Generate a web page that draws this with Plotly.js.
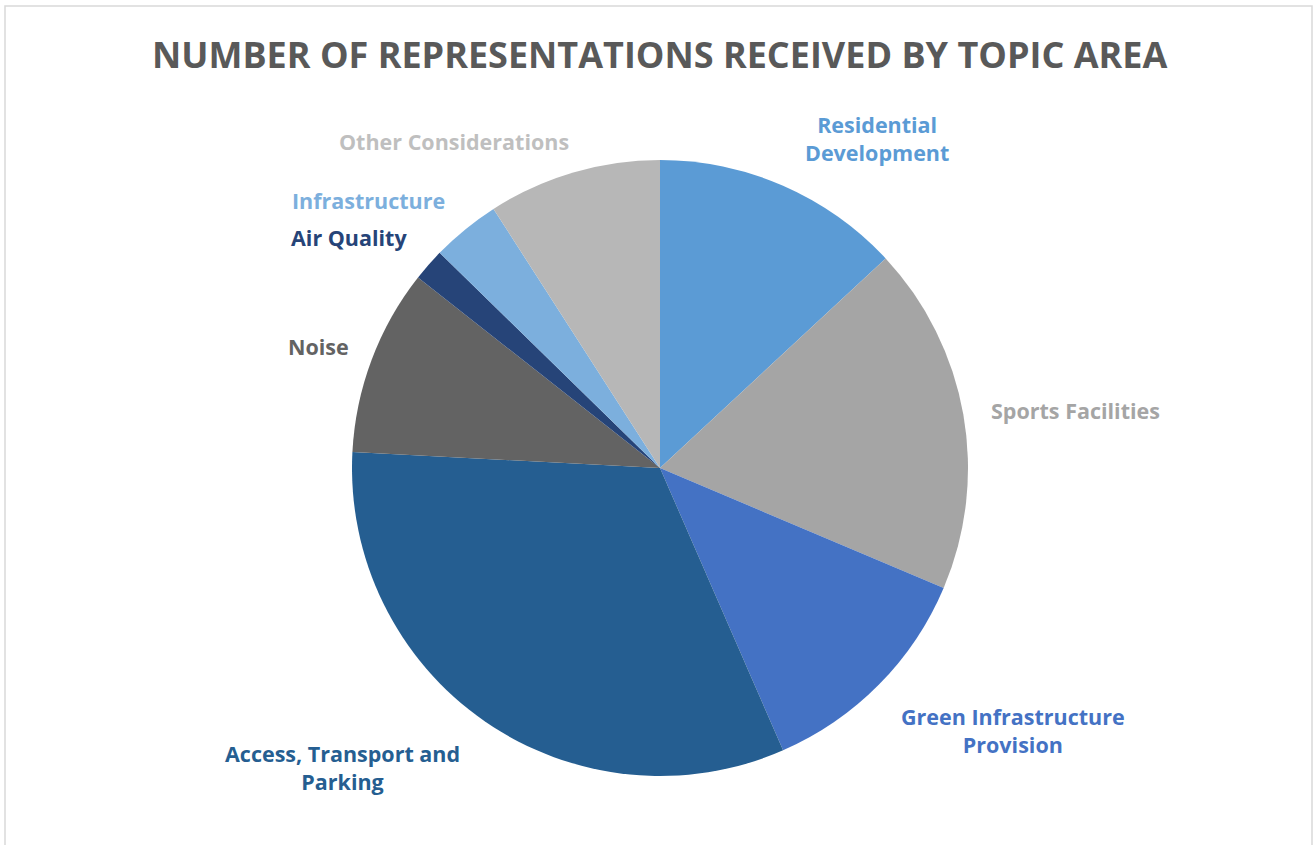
<!DOCTYPE html>
<html>
<head>
<meta charset="utf-8">
<script src="https://cdn.plot.ly/plotly-3.0.1.min.js"></script>
<style>html,body{margin:0;padding:0;background:#fff;}#chart{width:1315px;height:845px;}</style>
</head>
<body>
<div id="chart"></div>
<script>
// Data (estimated share of representations, %)
const topics = ["Residential Development", "Sports Facilities", "Green Infrastructure Provision", "Access, Transport and Parking", "Noise", "Air Quality", "Infrastructure", "Other Considerations"];
const values = [13.1, 18.3, 12.1, 32.4, 9.8, 1.7, 3.6, 9.1];
const labelTexts = ["Residential<br>Development", "Sports Facilities", "Green Infrastructure<br>Provision", "Access, Transport and<br>Parking", "Noise", "Air Quality", "Infrastructure", "Other Considerations"];
const colors = ["#5B9BD5", "#A5A5A5", "#4472C4", "#255E91", "#636363", "#264478", "#7CAFDD", "#B7B7B7"];
const labelColors = ["#5B9BD5", "#A5A5A5", "#4472C4", "#255E91", "#636363", "#264478", "#7CAFDD", "#BFBFBF"];
// label positions in pixels (layout only)
const labelPos = [[877,138],[1075,410],[1013,730],[342,767],[318,346],[349,238],[368,200],[454,141]];

const W = 1315, H = 845;
const cx = 660, cy = 468, r = 308;

const trace = {
  type: "pie",
  labels: topics,
  values: values,
  sort: false,
  direction: "clockwise",
  rotation: 0,
  textinfo: "none",
  hoverinfo: "label+value",
  marker: {colors: colors, line: {width: 0}},
  domain: {x: [(cx - r) / W, (cx + r) / W], y: [(H - cy - r) / H, (H - cy + r) / H]},
  showlegend: false
};

const annotations = labelTexts.map((t, i) => ({
  text: t,
  x: labelPos[i][0] / W,
  y: 1 - labelPos[i][1] / H,
  xref: "paper", yref: "paper",
  xanchor: "center", yanchor: "middle",
  showarrow: false,
  align: "center",
  font: {family: "'Open Sans', sans-serif", size: 21.5, color: labelColors[i], weight: 700}
}));

annotations.push({
  text: "NUMBER OF REPRESENTATIONS RECEIVED BY TOPIC AREA",
  x: 660 / W, y: 1 - 54 / H, xref: "paper", yref: "paper",
  xanchor: "center", yanchor: "middle", showarrow: false,
  font: {family: "'Open Sans', sans-serif", size: 36, color: "#595959", weight: 700}
});

const layout = {
  width: W, height: H,
  margin: {l: 0, r: 0, t: 0, b: 0},
  paper_bgcolor: "#ffffff",
  annotations: annotations,
  shapes: [{
    type: "rect", xref: "paper", yref: "paper",
    x0: 5 / W, x1: 1312 / W, y0: -0.01, y1: 1 - 6 / H,
    line: {color: "#D9D9D9", width: 1.5}, fillcolor: "rgba(0,0,0,0)"
  }]
};

Plotly.newPlot("chart", [trace], layout, {displayModeBar: false, staticPlot: true});
</script>
</body>
</html>
